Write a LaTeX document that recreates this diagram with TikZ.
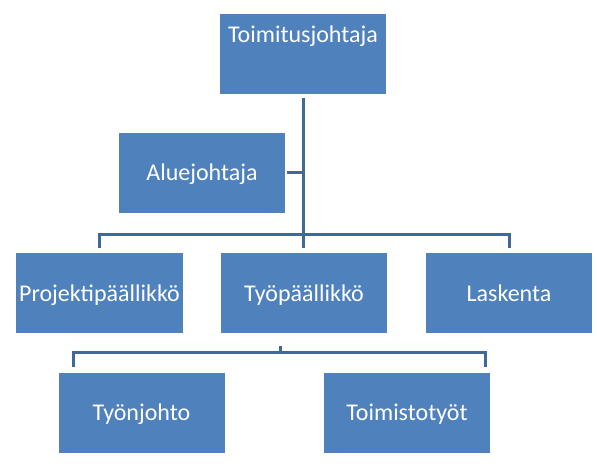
\documentclass[tikz,border=0pt]{standalone}
\usepackage{fontspec}
\setmainfont{Carlito}
\usetikzlibrary{calc}
\definecolor{boxblue}{HTML}{4F81BD}
\definecolor{lineblue}{HTML}{3F6A98}
\begin{document}
\begin{tikzpicture}[x=1bp,y=-1bp,
  orgbox/.style={rectangle,fill=boxblue,draw=none,inner sep=0pt,
    minimum width=166bp,minimum height=80bp,text=white,
    font=\fontsize{24bp}{28bp}\selectfont,text height=18bp,text depth=2bp},
  conn/.style={draw=lineblue,line width=3bp,line cap=butt,line join=miter}]
\useasboundingbox[fill=white] (0,0) rectangle (597,468);
\node[orgbox,text height=18bp,text depth=40bp] (ceo) at (303,54) {Toimitusjohtaja};
\node[orgbox] (alue) at (202,173) {Aluejohtaja};
\node[orgbox] (proj) at (99.5,293) {Projektipäällikkö};
\node[orgbox] (tyop) at (304,293) {Työpäällikkö};
\node[orgbox] (lask) at (509,293) {Laskenta};
\node[orgbox] (tyon) at (141.5,412.5) {Työnjohto};
\node[orgbox] (toim) at (407,412.5) {Toimistotyöt};
% top tree
\draw[conn] ([yshift=-4bp]ceo.south) -- ($(ceo.south)+(0,154)$);
\draw[conn] ([xshift=2bp]alue.east) -- (alue.east -| ceo.south);
\draw[conn] ([yshift=5bp]proj.north) -- ++(0,-13) -| ([yshift=5bp]lask.north);
% lower tree
\draw[conn] ($(tyop.south)+(-24,13)$) -- ++(0,6.5);
\draw[conn] ($(tyon.north)+(-68.5,-5)$) -- ++(0,-15) -| ($(toim.north)+(78,-5)$);
\end{tikzpicture}
\end{document}
